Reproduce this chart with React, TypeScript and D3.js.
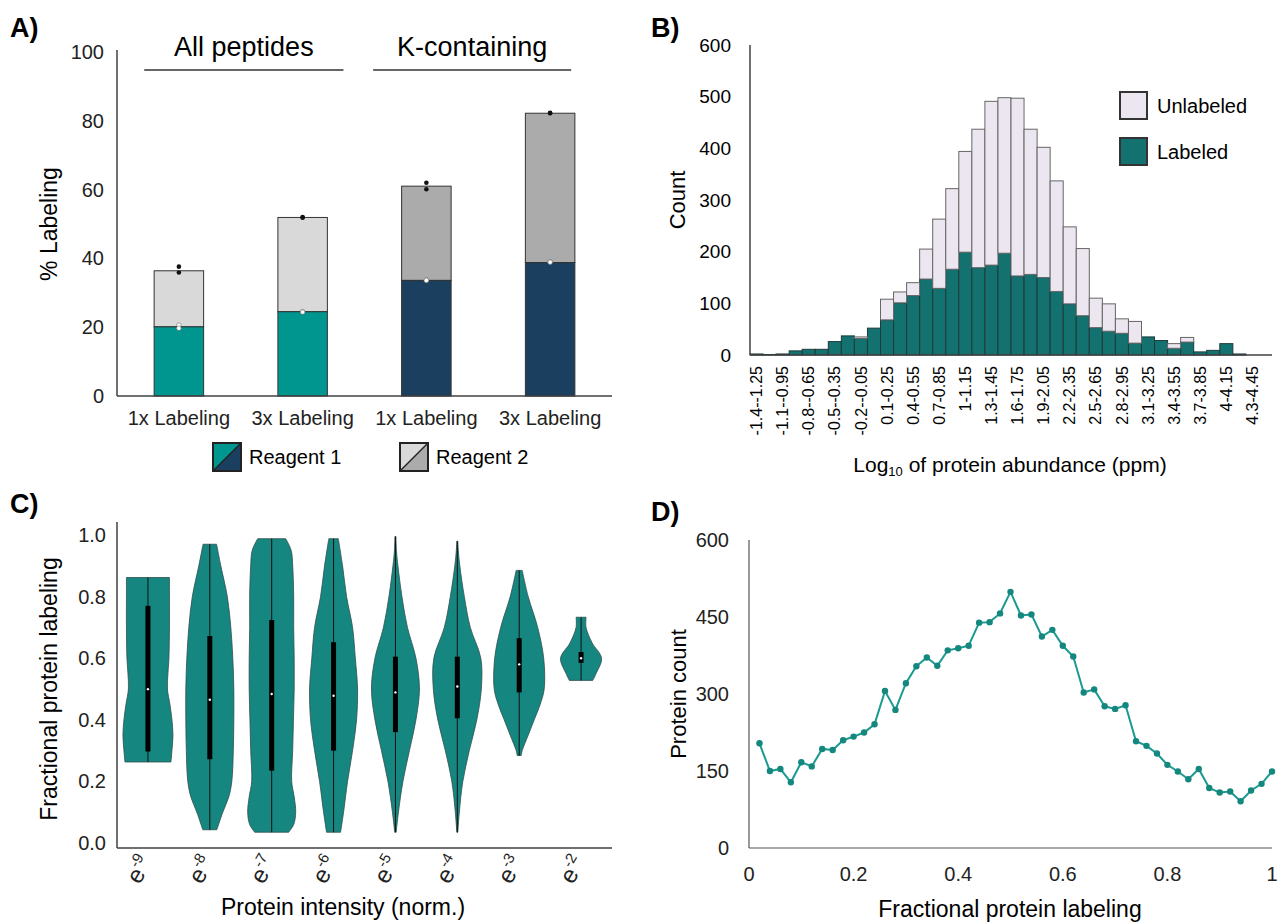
import React from "react";
import * as d3 from "d3";

// ---- Panel A data ----
const aCategories = ["1x Labeling", "3x Labeling", "1x Labeling", "3x Labeling"];
const aGroups = ["All peptides", "K-containing"];
const aGroupOf = [0, 0, 1, 1];
const aReagent1 = [20.1, 24.5, 33.6, 38.8];
const aReagent2 = [16.3, 27.4, 27.4, 43.4];
const aReagent1Reps = [[20.6, 19.7], [24.5, 24.4], [33.7, 33.6], [39.0, 38.9]];
const aTotalReps = [[37.6, 35.9], [52.0, 51.8], [62.0, 60.1], [82.3, 82.2]];
const aTicks = [0, 20, 40, 60, 80, 100];
const aLegend = ["Reagent 1", "Reagent 2"];

// ---- Panel B data ----
const bBins = [
  "-1.4--1.25", "-1.25--1.1", "-1.1--0.95", "-0.95--0.8", "-0.8--0.65", "-0.65--0.5",
  "-0.5--0.35", "-0.35--0.2", "-0.2--0.05", "-0.05-0.1", "0.1-0.25", "0.25-0.4",
  "0.4-0.55", "0.55-0.7", "0.7-0.85", "0.85-1", "1-1.15", "1.15-1.3", "1.3-1.45",
  "1.45-1.6", "1.6-1.75", "1.75-1.9", "1.9-2.05", "2.05-2.2", "2.2-2.35", "2.35-2.5",
  "2.5-2.65", "2.65-2.8", "2.8-2.95", "2.95-3.1", "3.1-3.25", "3.25-3.4", "3.4-3.55",
  "3.55-3.7", "3.7-3.85", "3.85-4", "4-4.15", "4.15-4.3", "4.3-4.45", "4.45-4.6",
];
const bLabeled = [
  2, 1, 2, 8, 11, 11, 26, 37, 32, 52, 68, 101, 115, 147, 129, 166, 199, 169, 174, 197,
  153, 156, 150, 123, 99, 76, 53, 46, 42, 23, 35, 28, 13, 25, 6, 9, 22, 2, 0, 0,
];
const bUnlabeled = [
  0, 0, 0, 0, 0, 0, 0, 0, 3, 0, 40, 21, 25, 58, 134, 156, 195, 268, 317, 301,
  344, 281, 252, 214, 149, 130, 57, 53, 28, 42, 0, 0, 9, 9, 0, 0, 0, 0, 0, 0,
];
const bTicks = [0, 100, 200, 300, 400, 500, 600];

// ---- Panel C data ----
const cCategories = ["-9", "-8", "-7", "-6", "-5", "-4", "-3", "-2"];
// [fractional labeling, relative density]
const cDensity: number[][][] = [
  [[0.263, 0.92], [0.3, 0.96], [0.35, 1.0], [0.4, 0.96], [0.45, 0.88], [0.5, 0.78], [0.55, 0.8], [0.6, 0.84], [0.7, 0.86], [0.8, 0.86], [0.862, 0.86]],
  [[0.043, 0.28], [0.1, 0.52], [0.15, 0.76], [0.2, 0.88], [0.3, 0.94], [0.4, 0.96], [0.5, 0.96], [0.6, 0.92], [0.7, 0.84], [0.8, 0.7], [0.9, 0.44], [0.97, 0.27]],
  [[0.035, 0.68], [0.06, 0.88], [0.1, 0.96], [0.15, 0.9], [0.2, 0.8], [0.3, 0.84], [0.4, 0.87], [0.5, 0.9], [0.6, 0.9], [0.7, 0.88], [0.8, 0.88], [0.9, 0.84], [0.95, 0.78], [0.988, 0.56]],
  [[0.035, 0.28], [0.1, 0.4], [0.2, 0.56], [0.3, 0.76], [0.4, 0.92], [0.5, 0.96], [0.6, 0.87], [0.7, 0.76], [0.8, 0.52], [0.9, 0.36], [0.988, 0.19]],
  [[0.035, 0.03], [0.1, 0.12], [0.2, 0.3], [0.3, 0.56], [0.4, 0.82], [0.5, 0.96], [0.6, 0.82], [0.7, 0.48], [0.8, 0.26], [0.9, 0.1], [0.95, 0.04], [0.995, 0.02]],
  [[0.035, 0.02], [0.1, 0.08], [0.2, 0.22], [0.3, 0.48], [0.4, 0.78], [0.5, 0.96], [0.6, 0.94], [0.7, 0.52], [0.8, 0.28], [0.9, 0.1], [0.95, 0.04], [0.98, 0.02]],
  [[0.284, 0.08], [0.3, 0.12], [0.35, 0.36], [0.4, 0.6], [0.45, 0.84], [0.5, 1.0], [0.6, 0.98], [0.7, 0.74], [0.8, 0.36], [0.885, 0.12]],
  [[0.528, 0.47], [0.55, 0.6], [0.6, 0.82], [0.65, 0.44], [0.7, 0.2], [0.733, 0.2]],
];
const cQ1 = [0.297, 0.272, 0.235, 0.3, 0.36, 0.405, 0.489, 0.585];
const cMedian = [0.4995, 0.465, 0.484, 0.478, 0.489, 0.508, 0.58, 0.6];
const cQ3 = [0.77, 0.672, 0.724, 0.652, 0.605, 0.605, 0.665, 0.62];
const cTicks = [0, 0.2, 0.4, 0.6, 0.8, 1.0];

// ---- Panel D data ----
const dX = [
  0.02, 0.04, 0.06, 0.08, 0.1, 0.12, 0.14, 0.16, 0.18, 0.2, 0.22, 0.24, 0.26, 0.28, 0.3, 0.32, 0.34,
  0.36, 0.38, 0.4, 0.42, 0.44, 0.46, 0.48, 0.5, 0.52, 0.54, 0.56, 0.58, 0.6, 0.62, 0.64, 0.66, 0.68,
  0.7, 0.72, 0.74, 0.76, 0.78, 0.8, 0.82, 0.84, 0.86, 0.88, 0.9, 0.92, 0.94, 0.96, 0.98, 1.0,
];
const dCount = [
  204, 150, 154, 128, 167, 159, 193, 191, 210, 217, 225, 241, 306, 269, 321, 354, 371,
  355, 385, 389, 394, 439, 440, 457, 499, 453, 455, 412, 425, 394, 373, 303, 309, 276,
  271, 278, 208, 199, 184, 162, 149, 134, 154, 117, 108, 110, 91, 112, 125, 149,
];
const dYTicks = [0, 150, 300, 450, 600];
const dXTicks = [0, 0.2, 0.4, 0.6, 0.8, 1];

const FONT = "'Liberation Sans', Arial, sans-serif";
const AXIS = "#404040";
const TICK = "#222";

const PanelA = () => {
  const x = d3.scaleBand<number>().domain(d3.range(aCategories.length)).range([117, 612]);
  const y = d3.scaleLinear().domain([0, 100]).range([396, 52]);
  const bw = x.bandwidth() * 0.4;
  const r1Fill = ["#009690", "#1b3f5e"];
  const r2Fill = ["#d9d9d9", "#ababab"];
  const groupSpan = [[0.22, 0.83], [0.07, 0.67]];
  return (
    <g fontFamily={FONT}>
      <text x={10} y={37} fontSize={27} fontWeight="bold">A)</text>
      {aTicks.map((t) => (
        <text key={t} x={104} y={y(t)} dy="0.35em" textAnchor="end" fontSize={20} fill={TICK}>{t}</text>
      ))}
      <text transform={`translate(49,${y(50)}) rotate(-90)`} textAnchor="middle" fontSize={23} dy="0.35em">% Labeling</text>
      {aGroups.map((g, gi) => {
        const idx = aGroupOf.map((v, i) => (v === gi ? i : -1)).filter((i) => i >= 0);
        const x1 = (x(idx[0]) as number) + x.bandwidth() * groupSpan[gi][0];
        const x2 = (x(idx[idx.length - 1]) as number) + x.bandwidth() * groupSpan[gi][1];
        return (
          <g key={g}>
            <text x={(x1 + x2) / 2} y={56} textAnchor="middle" fontSize={27}>{g}</text>
            <line x1={x1} x2={x2} y1={70} y2={70} stroke="#333" strokeWidth={1.5} />
          </g>
        );
      })}
      {aCategories.map((c, i) => {
        const cx = (x(i) as number) + x.bandwidth() / 2;
        const g = aGroupOf[i];
        const top1 = y(aReagent1[i]);
        const top2 = y(aReagent1[i] + aReagent2[i]);
        return (
          <g key={i}>
            <rect x={cx - bw / 2} y={top2} width={bw} height={top1 - top2} fill={r2Fill[g]} stroke="#333" strokeWidth={1} />
            <rect x={cx - bw / 2} y={top1} width={bw} height={y(0) - top1} fill={r1Fill[g]} stroke="#333" strokeWidth={1} />
            {aTotalReps[i].map((v, k) => (
              <circle key={"t" + k} cx={cx} cy={y(v)} r={2.3} fill="#111" />
            ))}
            {aReagent1Reps[i].map((v, k) => (
              <circle key={"r" + k} cx={cx} cy={y(v)} r={2.3} fill="#fff" stroke="#666" strokeWidth={0.6} />
            ))}
            <text x={cx} y={425} textAnchor="middle" fontSize={20} fill={TICK}>{c}</text>
          </g>
        );
      })}
      <line x1={117} x2={117} y1={50} y2={396} stroke={AXIS} strokeWidth={1.5} />
      <line x1={117} x2={612} y1={396} y2={396} stroke={AXIS} strokeWidth={1.5} />
      {aLegend.map((l, i) => {
        const lx = i === 0 ? 213 : 400;
        const ly = 443;
        const s = 28;
        const c1 = i === 0 ? r1Fill[0] : r2Fill[0];
        const c2 = i === 0 ? r1Fill[1] : r2Fill[1];
        return (
          <g key={l}>
            <polygon points={`${lx},${ly} ${lx + s},${ly} ${lx},${ly + s}`} fill={c1} />
            <polygon points={`${lx + s},${ly} ${lx + s},${ly + s} ${lx},${ly + s}`} fill={c2} />
            <line x1={lx} y1={ly + s} x2={lx + s} y2={ly} stroke="#222" strokeWidth={1.5} />
            <rect x={lx} y={ly} width={s} height={s} fill="none" stroke="#222" strokeWidth={2} />
            <text x={lx + s + 8} y={ly + s / 2} dy="0.35em" fontSize={20}>{l}</text>
          </g>
        );
      })}
    </g>
  );
};

const PanelB = () => {
  const x = d3.scaleBand<string>().domain(bBins).range([750, 1272]);
  const y = d3.scaleLinear().domain([0, 600]).range([355, 45]);
  const rows = bBins.map((b, i) => ({ bin: b, labeled: bLabeled[i], unlabeled: bUnlabeled[i] }));
  const series = d3.stack<any>().keys(["labeled", "unlabeled"])(rows);
  const fills: Record<string, string> = { labeled: "#137170", unlabeled: "#ece6f0" };
  const strokes: Record<string, string> = { labeled: "#1e3a39", unlabeled: "#666" };
  return (
    <g fontFamily={FONT}>
      <text x={651} y={37} fontSize={27} fontWeight="bold">B)</text>
      {bTicks.map((t) => (
        <text key={t} x={731} y={y(t)} dy="0.35em" textAnchor="end" fontSize={19}>{t}</text>
      ))}
      <text transform={`translate(677,${y(300)}) rotate(-90)`} textAnchor="middle" fontSize={22} dy="0.35em">Count</text>
      {series.map((s) =>
        s.map((d, i) =>
          d[1] - d[0] > 0 ? (
            <rect key={s.key + i} x={x(bBins[i])} y={y(d[1])} width={x.bandwidth()} height={y(d[0]) - y(d[1])}
              fill={fills[s.key]} stroke={strokes[s.key]} strokeWidth={1} />
          ) : null
        )
      )}
      <line x1={750} x2={750} y1={45} y2={355} stroke={AXIS} strokeWidth={1.5} />
      <line x1={750} x2={1272} y1={355} y2={355} stroke={AXIS} strokeWidth={1.5} />
      {bBins.map((b, i) =>
        i % 2 === 0 ? (
          <text key={b} transform={`translate(${(x(b) as number) + x.bandwidth() / 2},366) rotate(-90)`} textAnchor="end" dy="0.35em" fontSize={16}>{b}</text>
        ) : null
      )}
      <text x={1010} y={472} textAnchor="middle" fontSize={21}>
        Log<tspan fontSize={13} dy={4}>10</tspan><tspan dy={-4}> of protein abundance (ppm)</tspan>
      </text>
      {[["Unlabeled", "unlabeled"], ["Labeled", "labeled"]].map(([lab, k], i) => (
        <g key={k}>
          <rect x={1120} y={92 + i * 46} width={27} height={27} fill={fills[k]} stroke="#333" strokeWidth={2} />
          <text x={1157} y={105.5 + i * 46} dy="0.35em" fontSize={20}>{lab}</text>
        </g>
      ))}
    </g>
  );
};

const PanelC = () => {
  const x = d3.scaleBand<string>().domain(cCategories).range([117, 612]);
  const y = d3.scaleLinear().domain([0, 1]).range([843, 535]);
  const maxHalf = 25;
  return (
    <g fontFamily={FONT}>
      <text x={10} y={513} fontSize={27} fontWeight="bold">C)</text>
      {cTicks.map((t) => (
        <text key={t} x={106} y={y(t)} dy="0.35em" textAnchor="end" fontSize={20} fill={TICK}>{t.toFixed(1)}</text>
      ))}
      <text transform={`translate(49,${y(0.5)}) rotate(-90)`} textAnchor="middle" fontSize={23} dy="0.35em">Fractional protein labeling</text>
      {cCategories.map((c, i) => {
        const cx = (x(c) as number) + x.bandwidth() / 2;
        const area = d3.area<number[]>()
          .y((d) => y(d[0]))
          .x0((d) => cx - d[1] * maxHalf)
          .x1((d) => cx + d[1] * maxHalf)
          .curve(d3.curveCatmullRom);
        const prof = cDensity[i];
        return (
          <g key={c}>
            <path d={area(prof) as string} fill="#168680" stroke="#2e4f4d" strokeWidth={0.8} />
            <line x1={cx} x2={cx} y1={y(prof[0][0])} y2={y(prof[prof.length - 1][0])} stroke="#111" strokeWidth={1} />
            <rect x={cx - 2.5} y={y(cQ3[i])} width={5} height={y(cQ1[i]) - y(cQ3[i])} fill="#000" />
            <circle cx={cx} cy={y(cMedian[i])} r={1.2} fill="#fff" />
            <text transform={`translate(${cx + 5},862) rotate(-60)`} textAnchor="end" fontSize={24} fill={TICK}>
              e<tspan fontSize={15} dy={-10}>{c}</tspan>
            </text>
          </g>
        );
      })}
      <line x1={117} x2={117} y1={522} y2={848} stroke={AXIS} strokeWidth={1.5} />
      <line x1={117} x2={612} y1={848} y2={848} stroke={AXIS} strokeWidth={1.5} />
      <text x={343} y={915} textAnchor="middle" fontSize={23}>Protein intensity (norm.)</text>
    </g>
  );
};

const PanelD = () => {
  const x = d3.scaleLinear().domain([0, 1]).range([749, 1272]);
  const y = d3.scaleLinear().domain([0, 600]).range([848, 540]);
  const pts = dX.map((v, i) => [v, dCount[i]]);
  const line = d3.line<number[]>().x((d) => x(d[0])).y((d) => y(d[1]));
  return (
    <g fontFamily={FONT}>
      <text x={651} y={521} fontSize={27} fontWeight="bold">D)</text>
      {dYTicks.map((t) => (
        <text key={t} x={729} y={y(t)} dy="0.35em" textAnchor="end" fontSize={20} fill={TICK}>{t}</text>
      ))}
      {dXTicks.map((t) => (
        <text key={t} x={x(t)} y={881} textAnchor="middle" fontSize={20} fill={TICK}>{t}</text>
      ))}
      <text transform={`translate(678,${y(300)}) rotate(-90)`} textAnchor="middle" fontSize={22} dy="0.35em">Protein count</text>
      <line x1={749} x2={749} y1={540} y2={848} stroke="#555" strokeWidth={1.2} />
      <line x1={749} x2={1272} y1={848} y2={848} stroke="#555" strokeWidth={1.2} />
      <path d={line(pts) as string} fill="none" stroke="#1a9a91" strokeWidth={2} />
      {pts.map((p, i) => (
        <circle key={i} cx={x(p[0])} cy={y(p[1])} r={3.2} fill="#14877f" />
      ))}
      <text x={1010} y={917} textAnchor="middle" fontSize={23}>Fractional protein labeling</text>
    </g>
  );
};

const App = () => {
  return (
    <svg width={1281} height={923} style={{ position: "absolute", left: 0, top: 0, background: "#fff" }}>
      <rect width={1281} height={923} fill="#fff" />
      <PanelA />
      <PanelB />
      <PanelC />
      <PanelD />
    </svg>
  );
};

export default App;
